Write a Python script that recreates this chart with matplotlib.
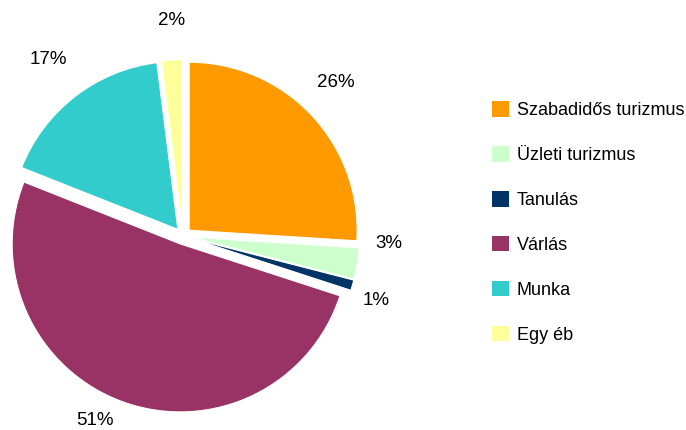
import numpy as np
import matplotlib.pyplot as plt
from matplotlib.patches import Patch

plt.rcParams['font.family'] = ['Liberation Sans', 'DejaVu Sans']

# adatok
labels = ['Szabadidős turizmus', 'Üzleti turizmus', 'Tanulás', 'Várlás', 'Munka', 'Egy éb']
values = [26, 3, 1, 51, 17, 2]
colors = ['#FF9900', '#CCFFCC', '#003366', '#993366', '#33CCCC', '#FFFF99']

W, H = 686, 430
fig = plt.figure(figsize=(W / 100, H / 100), dpi=100)

# pie axes: centre ~ (183, 236) px, radius ~168 px
cx, cy, r = 183, 236, 168
half = 210
ax = fig.add_axes([(cx - half) / W, (H - cy - half) / H, 2 * half / W, 2 * half / H])
wedges, texts, autotexts = ax.pie(values, colors=colors, startangle=90, counterclock=False,
                                  explode=[0.05] * len(values), radius=1,
                                  autopct='%1.0f%%', pctdistance=1.22,
                                  wedgeprops=dict(edgecolor='white', linewidth=0.8),
                                  textprops=dict(fontsize=13.5, color='black'))

# kis igazitas a cimkeken (pixelben), hogy ugy legyenek mint az eredetin
nudge_px = [(-3, 7), (-5, 26), (-12, -5), (-16, 16), (-4, 8), (2, 3)]
for t, (dx, dy) in zip(autotexts, nudge_px):
    x, y = t.get_position()
    t.set_position((x + dx / r, y + dy / r))

lim = half / r
ax.set_xlim(-lim, lim)
ax.set_ylim(-lim, lim)
ax.set_aspect('equal')
ax.axis('off')

handles = [Patch(facecolor=c, edgecolor='none') for c in colors]
fig.legend(handles, labels, loc='upper left', bbox_to_anchor=(485 / W, 1 - 94 / H),
           frameon=False, fontsize=13, handlelength=0.95, handleheight=0.95,
           handletextpad=0.4, labelspacing=1.49, borderaxespad=0)

fig.savefig('out.png', dpi=100)
